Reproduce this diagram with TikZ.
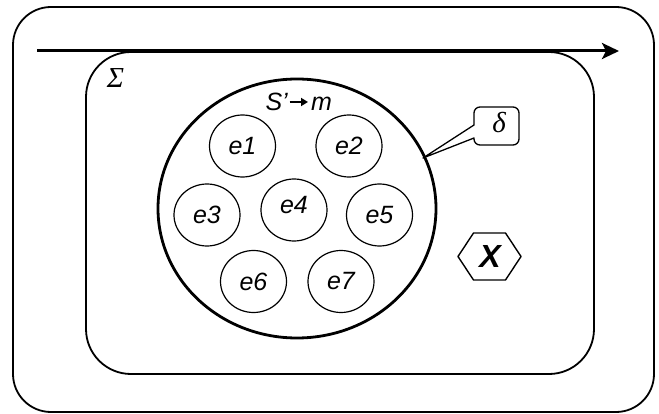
\documentclass[tikz,border=0pt]{standalone}
\usepackage{fontspec}
\setmainfont{Liberation Sans}
\newfontfamily\greekserif{Liberation Serif}
\usetikzlibrary{arrows.meta,shapes.geometric,calc}
\begin{document}
\begin{tikzpicture}[x=1pt,y=-1pt,
  frame/.style={draw, line width=1.8pt},
  elem/.style={ellipse, draw, line width=1.2pt, minimum width=66pt,
    minimum height=62pt, inner sep=0pt,
    font=\fontsize{25pt}{25pt}\selectfont\itshape},
  label/.style={inner sep=0pt},
  flow/.style={line width=3pt, -{Stealth[length=17pt,width=16pt,inset=4pt]}}]
\useasboundingbox (0,0) rectangle (659,414);

% outer and inner frames
\draw[frame, rounded corners=38pt] (13,7) rectangle (654,412);
\draw[frame, rounded corners=45pt] (86,52) rectangle (594,374);

% time arrow across the top
\coordinate (a0) at (37,51);
\coordinate (a1) at (619,51);
\draw[flow] (a0) -- (a1);

% Sigma label
\node[label, font=\fontsize{29pt}{29pt}\selectfont\greekserif\itshape] (sig) at (115.5,78) {Σ};

% the set S'
\node[ellipse, draw, line width=2.8pt, minimum width=278pt, minimum height=259pt, inner sep=0pt] (s) at (297,208.5) {};
\node[label, anchor=base east, font=\fontsize{25pt}{25pt}\selectfont\itshape] (sp) at (288,111) {S’};
\node[label, anchor=base west, font=\fontsize{25pt}{25pt}\selectfont\itshape] (mm) at (311,111) {m};
\draw[line width=2.2pt, -{Triangle[length=7pt,width=8pt]}]
  ($(sp.base east)+(1.5,-9)$) -- ($(mm.base west)+(-3,-9)$);

% elements
\node[elem] (e1) at (242.5,146) {e1};
\node[elem] (e2) at (349,146) {e2};
\node[elem] (e3) at (207,215) {e3};
\node[elem] (e4) at (294,210) {};
\node[label, font=\fontsize{25pt}{25pt}\selectfont\itshape] (e4t) at (294,205) {e4};
\node[elem] (e5) at (379.5,215) {e5};
\node[elem] (e6) at (253.5,281.5) {e6};
\node[elem] (e7) at (341,281.5) {e7};

% delta callout pointing at the border of S'
\coordinate (tip) at (423,158);
\draw[line width=1.3pt, fill=white, line join=round]
  (tip) -- (474,125) [rounded corners=6pt] -- (474,107) -- (519,107) -- (519,145) -- (474,145) [sharp corners] -- (474,138) -- cycle;
\node[label, font=\fontsize{29pt}{29pt}\selectfont\greekserif\itshape] (dl) at (499,123) {δ};

% hexagon with X
\node[label, font=\fontsize{32pt}{32pt}\selectfont\bfseries\itshape] (hx) at (490,256.5) {X};
\draw[line width=1.4pt, line join=round]
  ($(hx)+(-32,0)$) -- ($(hx)+(-16.5,-23.5)$) -- ($(hx)+(15.5,-23.5)$) --
  ($(hx)+(31,0)$) -- ($(hx)+(15.5,23.5)$) -- ($(hx)+(-16.5,23.5)$) -- cycle;
\end{tikzpicture}
\end{document}
